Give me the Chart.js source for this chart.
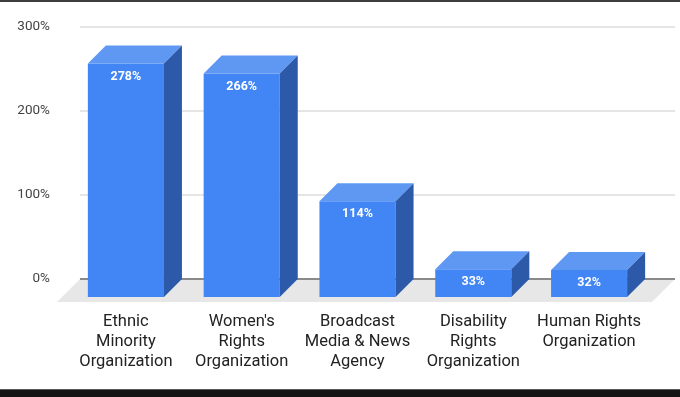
<!DOCTYPE html>
<html>
<head>
<meta charset="utf-8">
<style>
  html, body { margin: 0; padding: 0; background: #fff; }
  canvas { display: block; }
</style>
<script src="https://cdn.jsdelivr.net/npm/chart.js@4/dist/chart.umd.min.js"></script>
</head>
<body>
<canvas id="chart" width="680" height="397"></canvas>
<script>
'use strict';

// data
const categories = [
    ['Ethnic', 'Minority', 'Organization'],
    ["Women's", 'Rights', 'Organization'],
    ['Broadcast', 'Media & News', 'Agency'],
    ['Disability', 'Rights', 'Organization'],
    ['Human Rights', 'Organization']
];
const percentValues = [278, 266, 114, 33, 32];
const yTicks = [0, 100, 200, 300];

const DEPTH = 18;
const FRONT = '#4285f4';
const TOP = '#5e98f3';
const SIDE = '#2c5aa8';

// floor, gridlines and 3d faces around the bars chart.js draws
const box3d = {
    id: 'box3d',
    beforeDatasetsDraw(chart) {
        let ctx = chart.ctx;
        let area = chart.chartArea;
        let y = chart.scales.y;
        let zero = y.getPixelForValue(0);
        let gl = area.left + 12, gr = area.right + 28;

        // floor
        ctx.save();
        ctx.fillStyle = '#e7e7e7';
        ctx.beginPath();
        ctx.moveTo(gl, zero);
        ctx.lineTo(gr, zero);
        ctx.lineTo(gr - 23, zero + 23);
        ctx.lineTo(gl - 23, zero + 23);
        ctx.closePath();
        ctx.fill();

        // gridlines
        ctx.lineWidth = 2;
        for (let i = 0; i < yTicks.length; i++) {
            let py = Math.round(y.getPixelForValue(yTicks[i]));
            ctx.strokeStyle = yTicks[i] === 0 ? '#8a8a8a' : '#e5e5e5';
            ctx.beginPath();
            ctx.moveTo(gl, py);
            ctx.lineTo(gr, py);
            ctx.stroke();
        }
        ctx.restore();

        // front faces sit one depth lower than the back plane
        ctx.save();
        ctx.translate(0, DEPTH);
    },
    afterDatasetsDraw(chart) {
        let ctx = chart.ctx;
        ctx.restore();
        let meta = chart.getDatasetMeta(0);
        meta.data.forEach((bar, i) => {
            let x0 = bar.x - bar.width / 2;
            let x1 = bar.x + bar.width / 2;
            let top = bar.y + DEPTH;
            let bottom = bar.base + DEPTH;

            ctx.fillStyle = TOP;
            ctx.beginPath();
            ctx.moveTo(x0, top);
            ctx.lineTo(x1, top);
            ctx.lineTo(x1 + DEPTH, top - DEPTH);
            ctx.lineTo(x0 + DEPTH, top - DEPTH);
            ctx.closePath();
            ctx.fill();

            ctx.fillStyle = SIDE;
            ctx.beginPath();
            ctx.moveTo(x1, top);
            ctx.lineTo(x1 + DEPTH, top - DEPTH);
            ctx.lineTo(x1 + DEPTH, bottom - DEPTH);
            ctx.lineTo(x1, bottom);
            ctx.closePath();
            ctx.fill();

            ctx.fillStyle = '#ffffff';
            ctx.font = 'bold 12.5px Roboto';
            ctx.textAlign = 'center';
            ctx.textBaseline = 'middle';
            ctx.fillText(percentValues[i] + '%', bar.x, top + 13);
        });
    },
    afterDraw(chart) {
        let ctx = chart.ctx;
        ctx.save();
        ctx.fillStyle = '#3d3d3d';
        ctx.fillRect(0, 0, 680, 2);
        ctx.fillStyle = '#5a5a5a';
        ctx.fillRect(0, 389, 680, 1);
        ctx.fillStyle = '#141414';
        ctx.fillRect(0, 390, 680, 7);
        ctx.restore();
    }
};

let chartObj = {
    type: 'bar',
    data: {
        labels: categories,
        datasets: [{
            data: percentValues,
            backgroundColor: FRONT,
            borderWidth: 0,
            categoryPercentage: 1,
            barPercentage: 0.657,
            clip: false
        }]
    },
    options: {
        responsive: false,
        animation: false,
        devicePixelRatio: 1,
        layout: { padding: { top: 27, right: 33, bottom: 0, left: 0 } },
        plugins: { legend: { display: false }, tooltip: { enabled: false } },
        scales: {
            x: {
                grid: { display: false, drawTicks: false },
                border: { display: false },
                ticks: {
                    color: '#222',
                    font: { family: 'Roboto', size: 16.5, lineHeight: '20px' },
                    padding: 33,
                    autoSkip: false,
                    maxRotation: 0
                },
                afterFit(scale) { scale.height = 118; }
            },
            y: {
                min: 0,
                max: 300,
                grid: { display: false, drawTicks: false },
                border: { display: false },
                ticks: {
                    stepSize: 100,
                    color: '#444',
                    font: { family: 'Roboto', size: 13.5 },
                    padding: 18,
                    callback: (v) => v + '%'
                },
                afterFit(scale) { scale.width = 68; }
            }
        }
    },
    plugins: [box3d]
};

new Chart(document.getElementById('chart'), chartObj);
</script>
</body>
</html>
